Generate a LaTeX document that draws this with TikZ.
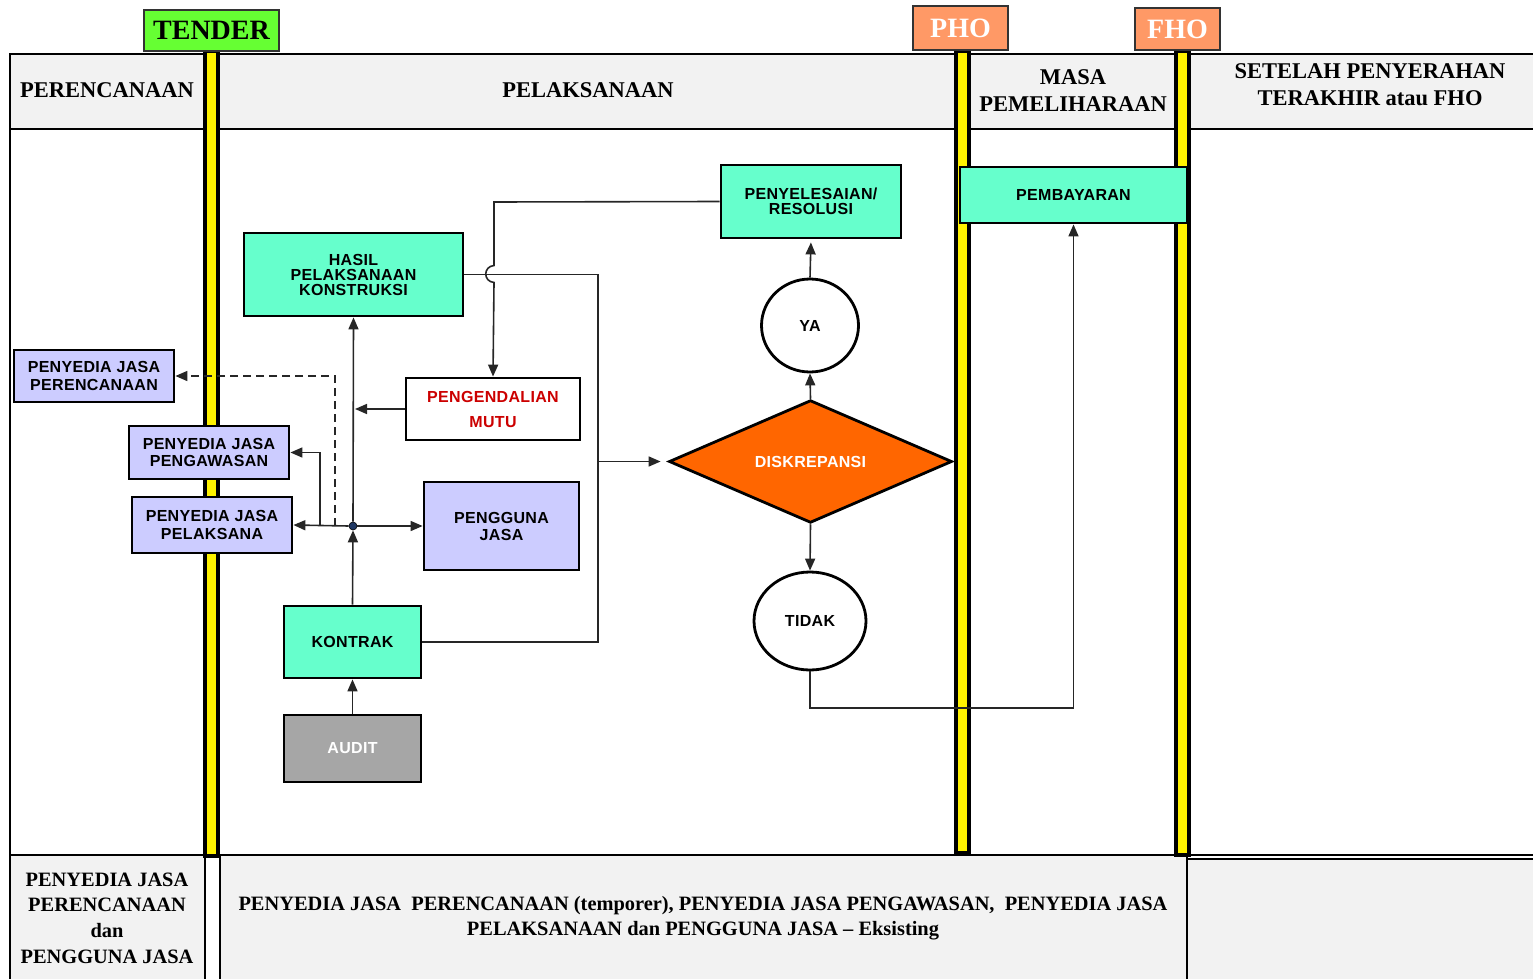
\documentclass[tikz,border=0pt]{standalone}
\usepackage{fontspec}
\setmainfont{Liberation Serif}
\newfontfamily\nodefont{Liberation Sans}[LetterSpace=2]
\usetikzlibrary{arrows.meta,shapes.geometric}
\definecolor{aqua}{HTML}{66FFCC}
\definecolor{lav}{HTML}{CCCCFF}
\definecolor{orng}{HTML}{FF6600}
\definecolor{audgray}{HTML}{A6A6A6}
\definecolor{bandgray}{HTML}{F2F2F2}
\definecolor{tgreen}{HTML}{66FF33}
\definecolor{salmon}{HTML}{FF9966}
\definecolor{mutured}{HTML}{CC0000}
\definecolor{jblue}{HTML}{1F3864}
\tikzset{
  box/.style={draw=black, line width=2.8pt, inner sep=0pt, align=center,
    font=\nodefont\bfseries\fontsize{16}{15}\selectfont},
  aquabox/.style={box, fill=aqua},
  lavbox/.style={box, fill=lav},
  phase/.style={draw=black!80, line width=1.2pt, inner sep=0pt,
    font=\bfseries\fontsize{28}{30}\selectfont},
  bar/.style={fill=yellow, draw=black, line width=3.2pt},
  band/.style={fill=bandgray, draw=black, line width=1.3pt},
  htext/.style={inner sep=0pt, align=center, font=\bfseries\fontsize{22.5}{27}\selectfont},
  ftext/.style={inner sep=0pt, align=center, font=\bfseries\fontsize{20.4}{25.6}\selectfont},
  conn/.style={draw=black!85, line width=1.6pt},
  arr/.style={conn, -{Triangle[length=12pt,width=10pt]}},
}
\begin{document}
\begin{tikzpicture}[x=1pt,y=-1pt]
\useasboundingbox (0,0) rectangle (1533,979);
% header band
\draw[band] (10,54) rectangle (1545,129);
% body left border
\draw[black, line width=1.3pt] (10,129) -- (10,979);
% footer
\draw[band] (10,855) rectangle (205,985);
\draw[band] (220,855) rectangle (1187,985);
\draw[band] (1187,859) rectangle (1545,985);
\draw[black, line width=1.3pt] (10,855) -- (1545,855);
% bars
\draw[bar] (205,51) rectangle (218,856);
\draw[bar] (956,51) rectangle (969,853);
\draw[bar] (1176,51) rectangle (1189,855);
% phase labels
\node[phase, fill=tgreen, minimum width=135pt, minimum height=41pt] (tender) at (211.5,30.5) {TENDER};
\node[phase, fill=salmon, text=white, minimum width=95pt, minimum height=44pt] (pho) at (960.5,28) {PHO};
\node[phase, fill=salmon, text=white, minimum width=85pt, minimum height=42pt] (fho) at (1177.5,29) {FHO};
% header texts
\node[htext] (h1) at (107,90) {PERENCANAAN};
\node[htext] (h2) at (588,90) {PELAKSANAAN};
\node[htext] (h3) at (1073,91) {MASA\\PEMELIHARAAN};
\node[htext] (h4) at (1370,85) {SETELAH PENYERAHAN\\TERAKHIR atau FHO};
% footer texts
\node[ftext] (f1) at (107,918) {PENYEDIA JASA\\PERENCANAAN\\dan\\PENGGUNA JASA};
\node[ftext] (f2) at (703,918) {PENYEDIA JASA\ \ PERENCANAAN (temporer), PENYEDIA JASA PENGAWASAN,\ \ PENYEDIA JASA\\PELAKSANAAN dan PENGGUNA JASA -- Eksisting};
% nodes
\node[aquabox, minimum width=219pt, minimum height=83pt] (hasil) at (353.5,274.5) {HASIL\\PELAKSANAAN\\KONSTRUKSI};
\node[aquabox, minimum width=180pt, minimum height=73pt] (resolusi) at (811,201.5) {PENYELESAIAN/\\RESOLUSI};
\node[aquabox, minimum width=227pt, minimum height=56pt] (bayar) at (1073.5,195) {PEMBAYARAN};
\node[box, ellipse, fill=white, minimum width=97pt, minimum height=93pt] (ya) at (810,325.5) {YA};
\node[box, diamond, fill=orng, text=white, minimum width=283pt, minimum height=114pt] (disk) at (810.5,461.5) {DISKREPANSI};
\node[box, ellipse, fill=white, minimum width=112pt, minimum height=98pt] (tidak) at (810,621) {TIDAK};
\node[box, fill=white, text=mutured, minimum width=174pt, minimum height=62pt,
  font=\nodefont\bfseries\fontsize{16}{25}\selectfont] (mutu) at (493,409) {PENGENDALIAN\\MUTU};
\node[lavbox, minimum width=155pt, minimum height=88pt,
  font=\nodefont\bfseries\fontsize{16}{17}\selectfont] (pengguna) at (501.5,526) {PENGGUNA\\JASA};
\node[lavbox, minimum width=160pt, minimum height=52pt,
  font=\nodefont\bfseries\fontsize{16}{17.5}\selectfont] (perenc) at (94,376) {PENYEDIA JASA\\PERENCANAAN};
\node[lavbox, minimum width=160pt, minimum height=53pt,
  font=\nodefont\bfseries\fontsize{16}{17.5}\selectfont] (pengaw) at (209,452.5) {PENYEDIA JASA\\PENGAWASAN};
\node[lavbox, minimum width=160pt, minimum height=56pt,
  font=\nodefont\bfseries\fontsize{16}{17.5}\selectfont] (pelak) at (212,525) {PENYEDIA JASA\\PELAKSANA};
\node[aquabox, minimum width=137pt, minimum height=72pt] (kontrak) at (352.5,642) {KONTRAK};
\node[box, fill=audgray, text=white, minimum width=137pt, minimum height=67pt] (audit) at (352.5,748.5) {AUDIT};
% junction
\node[circle, draw=black, fill=jblue, line width=0.6pt, inner sep=0pt, minimum size=8pt] (jdot) at (353,526) {};
\coordinate (b1) at (320,526);
\coordinate (b2) at (335,526);
\coordinate (m1) at (355,409);
\coordinate (r3) at (598,461.5);
\coordinate (t1) at (1073.5,708);
\coordinate (v1) at (494,202);
% connectors
\draw[arr] (audit.north) -- (kontrak.south);
\draw[arr] (kontrak.north) -- (jdot.south);
\draw[arr] (jdot.north) -- (hasil.south);
\draw[arr] (jdot.west) -- (pelak.east);
\draw[arr] (jdot.east) -- (pengguna.west);
\draw[arr] (b1) |- (pengaw.east);
\draw[arr, dash pattern=on 8pt off 5pt] (b2) |- (perenc.east);
\draw[arr] (mutu.west) -- (m1);
\draw[arr] (resolusi.west) -- (v1) -- (494,265.5) .. controls (483,266.5) and (483,281.5) .. (494,282.5) -- (mutu.north);
\draw[conn] (hasil.east) -| (r3);
\draw[conn] (kontrak.east) -| (r3);
\draw[arr, shorten >=7pt] (r3) -- (disk.west);
\draw[arr] (disk.north) -- (ya.south);
\draw[arr, shorten >=3pt] (ya.north) -- (resolusi.south);
\draw[arr] (disk.south) -- (tidak.north);
\draw[arr] (tidak.south) |- (t1) -- (bayar.south);
\end{tikzpicture}
\end{document}
